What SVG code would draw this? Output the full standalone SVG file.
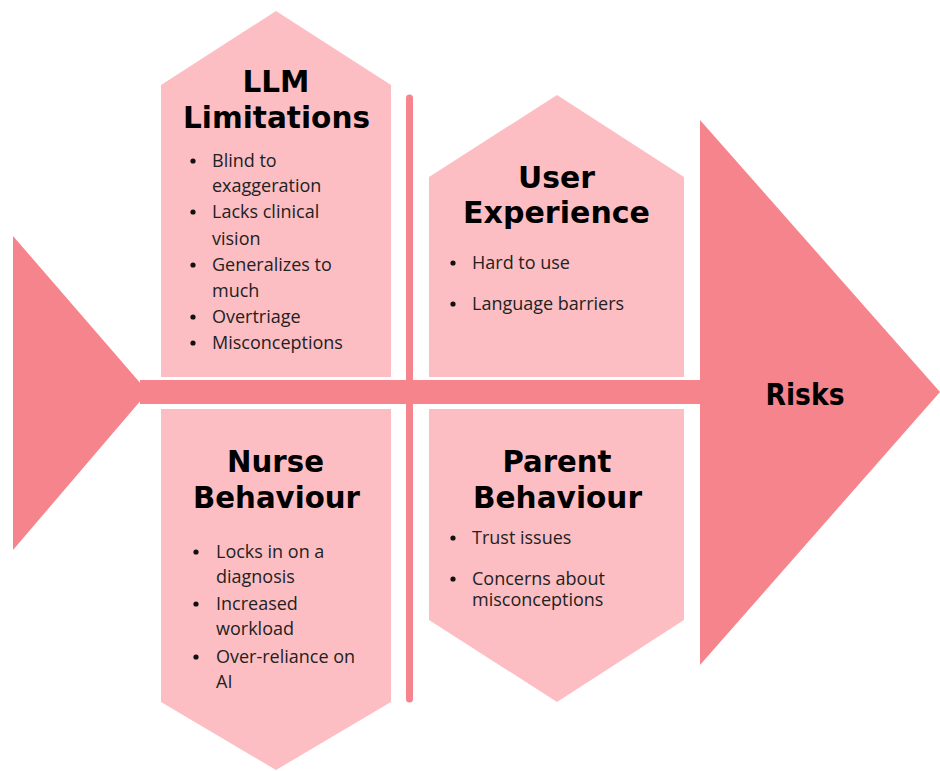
<svg xmlns="http://www.w3.org/2000/svg" width="940" height="771" viewBox="0 0 940 771">
  <style>
    .bone { fill: #F6848C; }
    .card { fill: #FDBEC3; }
    .title { font-family: "DejaVu Sans", "Liberation Sans", sans-serif; font-weight: bold; font-size: 31px; fill: #000; text-anchor: middle; }
    .item { font-family: "Open Sans", "Liberation Sans", sans-serif; font-size: 18px; fill: #222; }
    .dot { fill: #111; }
  </style>
  <rect width="940" height="771" fill="#fff"/>

  <!-- fishbone skeleton: tail, spine, divider -->
  <g id="connectors">
    <polygon class="bone" points="13,236 148,392 13,550"/>
    <rect class="bone" x="140" y="380" width="570" height="24"/>
    <line x1="409.5" y1="98" x2="409.5" y2="699" stroke="#F6848C" stroke-width="7" stroke-linecap="round"/>
  </g>

  <!-- head -->
  <g id="risks">
    <polygon class="bone" points="700,120 940,392 700,665"/>
    <text class="title" x="805" y="405" textLength="79" lengthAdjust="spacingAndGlyphs">Risks</text>
  </g>

  <!-- upper causes -->
  <g id="llm-limitations">
    <polygon class="card" points="161,85 276,11 391,85 391,377 161,377"/>
    <text class="title" x="276" y="92" textLength="67" lengthAdjust="spacingAndGlyphs">LLM</text>
    <text class="title" x="276.5" y="128" textLength="187" lengthAdjust="spacingAndGlyphs">Limitations</text>
    <circle class="dot" cx="193" cy="161" r="2.6"/>
    <circle class="dot" cx="193" cy="212" r="2.6"/>
    <circle class="dot" cx="193" cy="265" r="2.6"/>
    <circle class="dot" cx="193" cy="317" r="2.6"/>
    <circle class="dot" cx="193" cy="343" r="2.6"/>
    <text class="item" x="212" y="167">Blind to</text>
    <text class="item" x="212" y="192">exaggeration</text>
    <text class="item" x="212" y="218">Lacks clinical</text>
    <text class="item" x="212" y="245">vision</text>
    <text class="item" x="212" y="271">Generalizes to</text>
    <text class="item" x="212" y="297">much</text>
    <text class="item" x="212" y="323">Overtriage</text>
    <text class="item" x="212" y="349">Misconceptions</text>
  </g>

  <g id="user-experience">
    <polygon class="card" points="429,177 557,95 684,177 684,377 429,377"/>
    <text class="title" x="556.5" y="188" textLength="77" lengthAdjust="spacingAndGlyphs">User</text>
    <text class="title" x="556.5" y="223" textLength="187" lengthAdjust="spacingAndGlyphs">Experience</text>
    <circle class="dot" cx="453" cy="263" r="2.6"/>
    <circle class="dot" cx="453" cy="304" r="2.6"/>
    <text class="item" x="472" y="269">Hard to use</text>
    <text class="item" x="472" y="310">Language barriers</text>
  </g>

  <!-- lower causes -->
  <g id="nurse-behaviour">
    <polygon class="card" points="161,409 391,409 391,702 276,770 161,702"/>
    <text class="title" x="275.5" y="472" textLength="97" lengthAdjust="spacingAndGlyphs">Nurse</text>
    <text class="title" x="276.5" y="508" textLength="167" lengthAdjust="spacingAndGlyphs">Behaviour</text>
    <circle class="dot" cx="196" cy="552" r="2.6"/>
    <circle class="dot" cx="196" cy="604" r="2.6"/>
    <circle class="dot" cx="196" cy="657" r="2.6"/>
    <text class="item" x="216" y="558">Locks in on a</text>
    <text class="item" x="216" y="583">diagnosis</text>
    <text class="item" x="216" y="610">Increased</text>
    <text class="item" x="216" y="635">workload</text>
    <text class="item" x="216" y="663">Over-reliance on</text>
    <text class="item" x="216" y="688">AI</text>
  </g>

  <g id="parent-behaviour">
    <polygon class="card" points="429,409 684,409 684,620 557,702 429,620"/>
    <text class="title" x="557" y="472" textLength="109" lengthAdjust="spacingAndGlyphs">Parent</text>
    <text class="title" x="557.5" y="508" textLength="169" lengthAdjust="spacingAndGlyphs">Behaviour</text>
    <circle class="dot" cx="453" cy="538" r="2.6"/>
    <circle class="dot" cx="453" cy="579" r="2.6"/>
    <text class="item" x="472" y="544">Trust issues</text>
    <text class="item" x="472" y="585">Concerns about</text>
    <text class="item" x="472" y="606">misconceptions</text>
  </g>
</svg>
